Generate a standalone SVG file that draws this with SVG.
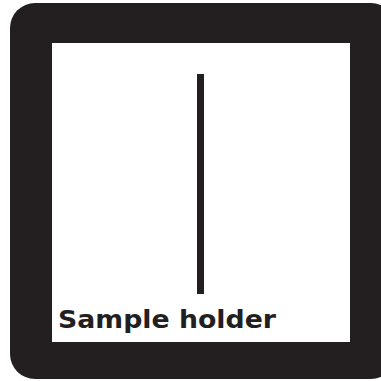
<svg xmlns="http://www.w3.org/2000/svg" width="381" height="381" viewBox="0 0 381 381">
<style>
.dark{fill:#231f20}
.lbl{font-family:"DejaVu Sans","Liberation Sans",sans-serif;font-weight:bold;font-size:25px;fill:#231f20}
</style>
<g id="holder">
<rect class="dark" x="10" y="3" width="386" height="376" rx="25" ry="25"/>
<rect x="52" y="43" width="298" height="299" fill="#ffffff"/>
</g>
<g id="sample">
<rect class="dark" x="197" y="74" width="7" height="220"/>
</g>
<g id="label">
<text class="lbl" x="58" y="328" textLength="218" lengthAdjust="spacingAndGlyphs">Sample holder</text>
</g>
<g id="connectors"/>
</svg>
